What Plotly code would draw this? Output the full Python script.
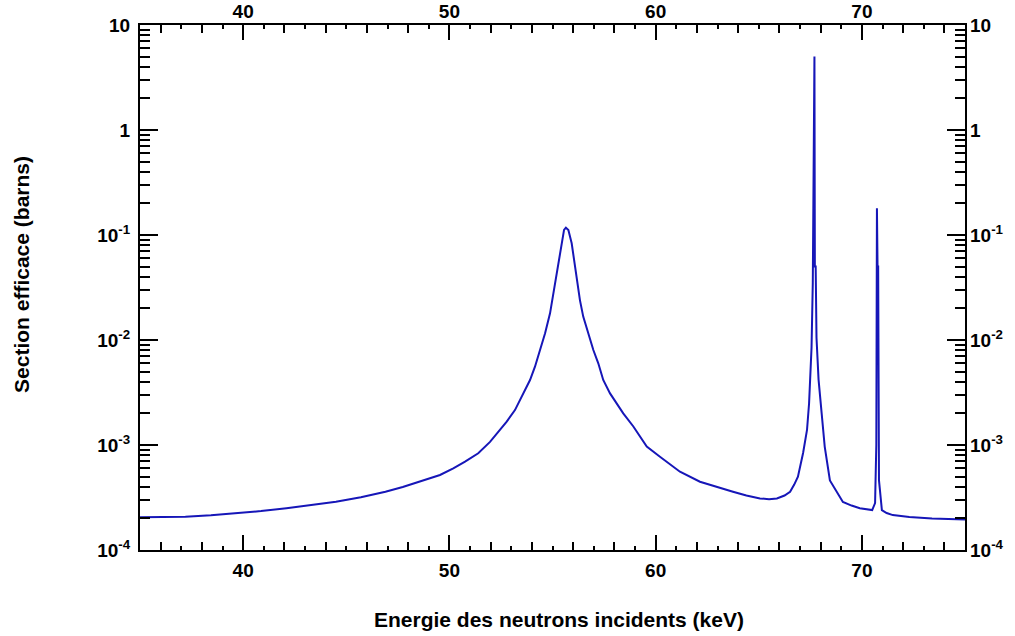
import plotly.graph_objects as go

# Data
energy_kev = [35, 37.2, 38.44, 39.65, 40.87, 42.1, 43.29, 44.5, 45.71, 46.9, 47.74, 48.5,
              49.0, 49.545, 50.19, 50.76, 51.4, 51.97, 52.45, 52.78, 53.18, 53.42, 53.67,
              53.91, 54.15, 54.39, 54.64, 54.88, 55.04, 55.2, 55.33, 55.45, 55.56, 55.65,
              55.77, 55.93, 56.04, 56.17, 56.33, 56.49, 56.74, 56.98, 57.22, 57.46, 57.79,
              58.43, 58.92, 59.57, 60.21, 61.18, 62.15, 63.0, 63.75, 64.4, 65.06, 65.5,
              65.88, 66.25, 66.52, 66.72, 66.9, 67.15, 67.34, 67.44, 67.5, 67.56, 67.62,
              67.66, 67.68, 67.70, 67.72, 67.76, 67.8, 67.9, 68.05, 68.2, 68.45, 68.8,
              69.08, 69.5, 69.9, 70.5, 70.64, 70.70, 70.73, 70.76, 70.79, 70.83, 70.97,
              71.2, 71.5, 72.3, 73.4, 75]
cross_section_barns = [2.05e-4, 2.07e-4, 2.14e-4, 2.24e-4, 2.35e-4, 2.5e-4, 2.67e-4, 2.88e-4,
                       3.18e-4, 3.59e-4, 3.98e-4, 4.47e-4, 4.8e-4, 5.18e-4, 6.0e-4, 6.94e-4,
                       8.34e-4, 1.07e-3, 1.39e-3, 1.67e-3, 2.15e-3, 2.68e-3, 3.34e-3, 4.16e-3,
                       5.57e-3, 8.03e-3, 0.01157, 0.01795, 0.0278, 0.0431, 0.0622, 0.0896,
                       0.1117, 0.1175, 0.1117, 0.0834, 0.0578, 0.0373, 0.024, 0.0167, 0.01157,
                       8.03e-3, 6.0e-3, 4.16e-3, 3.1e-3, 2.0e-3, 1.5e-3, 9.64e-4, 7.74e-4,
                       5.57e-4, 4.47e-4, 3.95e-4, 3.59e-4, 3.3e-4, 3.1e-4, 3.05e-4, 3.1e-4,
                       3.3e-4, 3.59e-4, 4.2e-4, 5.0e-4, 8.4e-4, 1.39e-3, 2.5e-3, 4.2e-3,
                       8.5e-3, 0.035, 0.33, 4.8, 5.0, 0.05, 0.05, 0.0105, 4.2e-3, 2.0e-3,
                       9.6e-4, 4.6e-4, 3.5e-4, 2.87e-4, 2.65e-4, 2.5e-4, 2.4e-4, 2.8e-4,
                       1.0e-3, 0.18, 0.05, 0.05, 4.6e-4, 2.4e-4, 2.25e-4, 2.15e-4, 2.06e-4,
                       2.0e-4, 1.95e-4]

x_major_ticks = [40, 50, 60, 70]
x_medium_ticks = list(range(36, 75, 2))
x_medium_text = [str(v) if v in x_major_ticks else "" for v in x_medium_ticks]
y_tick_vals = [1e-4, 1e-3, 1e-2, 1e-1, 1, 10]
y_tick_text = ["10<sup>-4</sup>", "10<sup>-3</sup>", "10<sup>-2</sup>", "10<sup>-1</sup>", "1", "10"]
x_title = "Energie des neutrons incidents (keV)"
y_title = "Section efficace (barns)"

FONT = "Arial, Liberation Sans, sans-serif"
tickfont = dict(family=FONT, size=19, color="black", weight="bold")
y_minor = [m * 10 ** d for d in range(-4, 1) for m in range(2, 10)]

fig = go.Figure()
fig.add_trace(go.Scatter(x=energy_kev, y=cross_section_barns, mode="lines",
                         line=dict(color="#1616B8", width=2), showlegend=False,
                         xaxis="x", yaxis="y"))
fig.add_trace(go.Scatter(x=[None], y=[None], xaxis="x2", yaxis="y2", showlegend=False))

common = dict(showgrid=False, zeroline=False, tickcolor="black", tickwidth=2,
              automargin=False)

fig.update_layout(
    width=1015, height=636,
    margin=dict(l=140, r=50, t=25, b=86),
    paper_bgcolor="white", plot_bgcolor="white",
    # bottom axis: labels, medium ticks every 2 keV, small ticks every 1 keV (mirrored on top)
    xaxis=dict(range=[35, 75], tickvals=x_medium_ticks, ticktext=x_medium_text,
               ticks="inside", ticklen=8, showline=True, linewidth=2, linecolor="black",
               mirror="allticks", tickfont=tickfont, ticklabelstandoff=2,
               minor=dict(dtick=1, tick0=35, ticks="inside", ticklen=4, tickwidth=2,
                          tickcolor="black", showgrid=False), **common),
    # top axis: labels and long major ticks (mirrored on bottom)
    xaxis2=dict(range=[35, 75], overlaying="x", side="top", anchor="y",
                tickvals=x_major_ticks, ticks="inside", ticklen=15, showline=False,
                mirror="allticks", tickfont=tickfont, ticklabelstandoff=2, **common),
    yaxis=dict(type="log", range=[-4, 1], tickvals=y_tick_vals, ticktext=y_tick_text,
               ticks="inside", ticklen=18, showline=True, linewidth=2, linecolor="black",
               mirror="allticks", tickfont=tickfont, ticklabelstandoff=4,
               minor=dict(tickvals=y_minor, ticks="inside", ticklen=10, tickwidth=2,
                          tickcolor="black", showgrid=False), **common),
    yaxis2=dict(type="log", range=[-4, 1], overlaying="y", side="right", anchor="x",
                tickvals=y_tick_vals, ticktext=y_tick_text, ticks="inside", ticklen=18,
                showline=False, tickfont=tickfont, ticklabelstandoff=4, **common),
    annotations=[
        dict(text=x_title, xref="paper", yref="paper", x=0.508, y=-0.133,
             showarrow=False, xanchor="center", yanchor="middle",
             font=dict(family=FONT, size=21, color="black", weight="bold")),
        dict(text=y_title, xref="paper", yref="paper", x=-0.143, y=0.524, textangle=-90,
             showarrow=False, xanchor="center", yanchor="middle",
             font=dict(family=FONT, size=21, color="black", weight="bold")),
    ],
)

fig.write_html("out.html")
